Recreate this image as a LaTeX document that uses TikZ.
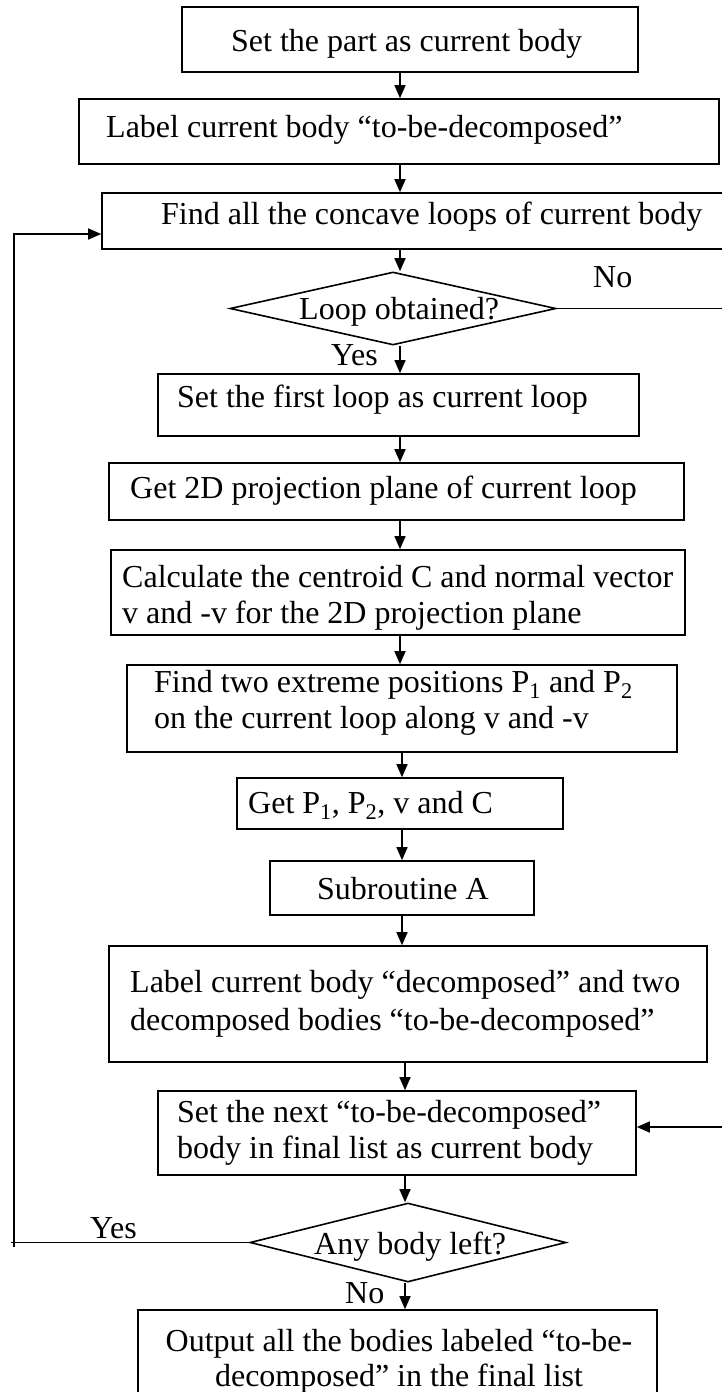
\documentclass[tikz,border=0pt]{standalone}
\usepackage{fontspec}
\setmainfont{Liberation Serif}
\usetikzlibrary{arrows.meta,shapes.geometric}
\tikzset{
  box/.style={draw, line width=1.6pt, rectangle, inner sep=0pt},
  dec/.style={draw, line width=1.6pt, diamond, inner sep=0pt},
  txt/.style={inner sep=0pt, font=\fontsize{32}{37}\selectfont},
  arr/.style={line width=1.5pt, -{Triangle[length=13pt,width=11pt]}},
  ln/.style={line width=1.5pt},
}
\begin{document}
\begin{tikzpicture}[x=1pt,y=-1pt]
\useasboundingbox (0,0) rectangle (721,1392);
% boxes
\node[box, minimum width=456pt, minimum height=65pt] (b1) at (410,39.5) {};
\node[box, minimum width=640pt, minimum height=65pt] (b2) at (399,131.5) {};
\node[box, minimum width=623pt, minimum height=56pt] (b3) at (413.5,221) {};
\node[dec, minimum width=326pt, minimum height=73pt] (d1) at (393,308.5) {};
\node[box, minimum width=481pt, minimum height=62pt] (b4) at (398.5,405) {};
\node[box, minimum width=575pt, minimum height=57pt] (b5) at (396.5,491.5) {};
\node[box, minimum width=574pt, minimum height=85pt] (b6) at (398,592.5) {};
\node[box, minimum width=550pt, minimum height=87pt] (b7) at (402,708.5) {};
\node[box, minimum width=326pt, minimum height=51pt] (b8) at (400,803.5) {};
\node[box, minimum width=264pt, minimum height=54pt] (b9) at (402,888) {};
\node[box, minimum width=598pt, minimum height=116pt] (b10) at (408,1004) {};
\node[box, minimum width=478pt, minimum height=84pt] (b11) at (397,1133) {};
\node[dec, minimum width=316pt, minimum height=79pt] (d2) at (408,1242.5) {};
\node[box, minimum width=519pt, minimum height=92pt] (b12) at (397.5,1356) {};
% texts
\node[txt, anchor=base west] (t1) at (231,51) {Set the part as current body};
\node[txt, anchor=base west] (t2) at (106,137) {Label current body “to-be-decomposed”};
\node[txt, anchor=base west] (t3) at (161,224) {Find all the concave loops of current body};
\node[txt, anchor=base west] (td1) at (299,319) {Loop obtained?};
\node[txt, anchor=base west] (no1) at (593,287) {No};
\node[txt, anchor=base west] (yes1) at (331,365) {Yes};
\node[txt, anchor=base west] (t4) at (177,407) {Set the first loop as current loop};
\node[txt, anchor=base west] (t5) at (130,498) {Get 2D projection plane of current loop};
\node[txt, anchor=base west] (t6a) at (122,587) {Calculate the centroid C and normal vector};
\node[txt, anchor=base west] (t6b) at (122,623) {v and -v for the 2D projection plane};
\node[txt, anchor=base west] (t7a) at (154,692) {Find two extreme positions P\textsubscript{1} and P\textsubscript{2}};
\node[txt, anchor=base west] (t7b) at (154,728) {on the current loop along v and -v};
\node[txt, anchor=base west] (t8) at (248,813) {Get P\textsubscript{1}, P\textsubscript{2}, v and C};
\node[txt, anchor=base west] (t9) at (317,899) {Subroutine A};
\node[txt, anchor=base west] (t10a) at (130,992) {Label current body “decomposed” and two};
\node[txt, anchor=base west] (t10b) at (130,1030) {decomposed bodies “to-be-decomposed”};
\node[txt, anchor=base west] (t11a) at (177,1122) {Set the next “to-be-decomposed”};
\node[txt, anchor=base west] (t11b) at (177,1158) {body in final list as current body};
\node[txt, anchor=base west] (yes2) at (90,1238) {Yes};
\node[txt, anchor=base west] (td2) at (314,1254) {Any body left?};
\node[txt, anchor=base west] (no2) at (345,1303) {No};
\node[txt, anchor=base] (t12a) at (399,1351) {Output all the bodies labeled “to-be-};
\node[txt, anchor=base] (t12b) at (399,1386) {decomposed” in the final list};
% spine coordinates
\coordinate (sa) at (400,0);
\coordinate (sb) at (402,0);
\coordinate (sc) at (405,0);
\draw[arr] (b1.south -| sa) -- (b2.north -| sa);
\draw[arr] (b2.south -| sa) -- (b3.north -| sa);
\draw[arr] (b3.south -| sa) -- (d1.north -| sa);
\draw[arr] (d1.south -| sa) -- (b4.north -| sa);
\draw[arr] (b4.south -| sa) -- (b5.north -| sa);
\draw[arr] (b5.south -| sa) -- (b6.north -| sa);
\draw[arr] (b6.south -| sa) -- (b7.north -| sa);
\draw[arr] (b7.south -| sb) -- (b8.north -| sb);
\draw[arr] (b8.south -| sb) -- (b9.north -| sb);
\draw[arr] (b9.south -| sb) -- (b10.north -| sb);
\draw[arr] (b10.south -| sc) -- (b11.north -| sc);
\draw[arr] (b11.south -| sc) -- (d2.north -| sc);
\draw[arr] (d2.south -| sc) -- (b12.north -| sc);
% loop back (Yes)
\coordinate (lx) at (14,234);
\coordinate (lb) at (14,1247);
\draw[ln] (d2.west) -- (d2.west -| 11,0);
\draw[arr] (lb) -- (lx) -- (lx -| b3.west);
% No branch
\coordinate (rx) at (732,1127);
\draw[arr] (d1.east) -| (rx) -- (rx -| b11.east);
\end{tikzpicture}
\end{document}
